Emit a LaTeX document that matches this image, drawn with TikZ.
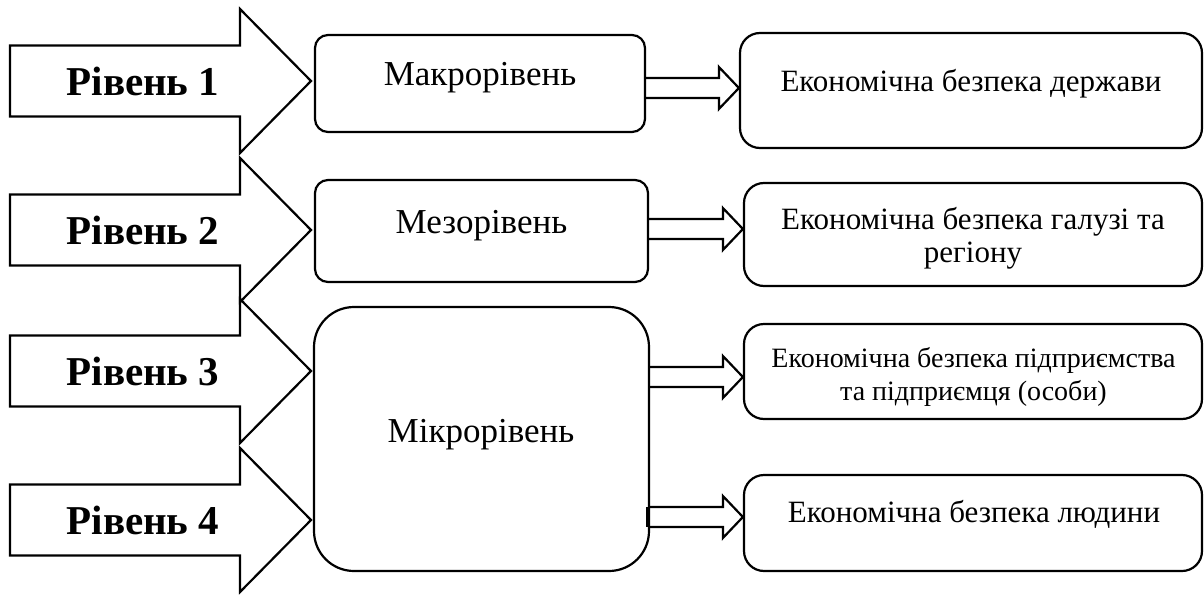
\documentclass[tikz,border=0pt]{standalone}
\usepackage{fontspec}
\setmainfont{Liberation Serif}
\usetikzlibrary{calc}

\tikzset{
  levelarrow/.style={draw, line width=2.2pt, line join=miter},
  leveltext/.style={font=\fontsize{41}{45}\selectfont\bfseries, inner sep=0pt},
  midbox/.style={draw, line width=2.2pt, rounded corners=13pt},
  midtext/.style={font=\fontsize{35}{40}\selectfont, anchor=base, inner sep=0pt},
  ecobox/.style={draw, line width=2.2pt, rounded corners=20pt},
  ecotext/.style={font=\fontsize{31}{33}\selectfont, anchor=base, inner sep=0pt, align=center},
  hollow/.style={draw, line width=2.2pt, line join=miter},
}

% hollow arrow from a middle box to an outcome box, #3 = shift of the tip
\newcommand{\hollowarrow}[3]{%
  \draw[hollow] ($(#1.east |- #2.west)+(0,#3-10)$) -- ($(#2.west)+(-20,#3-10)$)
    -- ($(#2.west)+(-20,#3-21)$) -- ($(#2.west)+(0,#3)$)
    -- ($(#2.west)+(-20,#3+21)$) -- ($(#2.west)+(-20,#3+10)$)
    -- ($(#1.east |- #2.west)+(0,#3+10)$);
}

\begin{document}
\begin{tikzpicture}[x=1pt, y=-1pt]
\useasboundingbox (0,0) rectangle (1204,594);

% levels
\foreach \y/\n in {81/1, 230/2, 371/3, 520/4} {
  \draw[levelarrow] (10,\y-35.5) -- (240,\y-35.5) -- (240,\y-72) -- (311,\y)
    -- (240,\y+72) -- (240,\y+35.5) -- (10,\y+35.5) -- cycle;
  \node[leveltext] (level\n) at (143,\y) {Рівень \n};
}

% middle column
\node[midbox, minimum width=330pt, minimum height=97pt] (macro) at (480,83.5) {};
\node[midbox, minimum width=333pt, minimum height=102pt] (meso) at (481.5,231) {};
\node[midbox, rounded corners=40pt, minimum width=335pt, minimum height=264pt] (micro) at (481.5,439) {};
\node[midtext] (macrotxt) at (480,85) {Макрорівень};
\node[midtext] (mesotxt) at (481.5,233) {Мезорівень};
\node[midtext] (microtxt) at (481,442) {Мікрорівень};

% right column
\node[ecobox, minimum width=462pt, minimum height=115pt] (eco1) at (971,90.5) {};
\node[ecobox, minimum width=458pt, minimum height=103pt] (eco2) at (973,234.5) {};
\node[ecobox, minimum width=458pt, minimum height=95pt] (eco3) at (973,371.5) {};
\node[ecobox, minimum width=458pt, minimum height=96pt] (eco4) at (973,523) {};
\node[ecotext] (eco1txt) at (971,92) {Економічна безпека держави};
\node[ecotext] (eco2txt) at (973,262) {Економічна безпека галузі та\\регіону};
\node[ecotext, font=\fontsize{28}{33}\selectfont] (eco3txt) at (973.5,400) {Економічна безпека підприємства\\та підприємця (особи)};
\node[ecotext] (eco4txt) at (974,522) {Економічна безпека людини};

% links
\hollowarrow{macro}{eco1}{-2.5}
\hollowarrow{meso}{eco2}{-5.5}
\hollowarrow{micro}{eco3}{5.5}
\hollowarrow{micro}{eco4}{-6}
\draw[line width=4pt] ($(micro.east |- eco4.west)+(-2,-16)$) -- ++(0,20);

\end{tikzpicture}
\end{document}
